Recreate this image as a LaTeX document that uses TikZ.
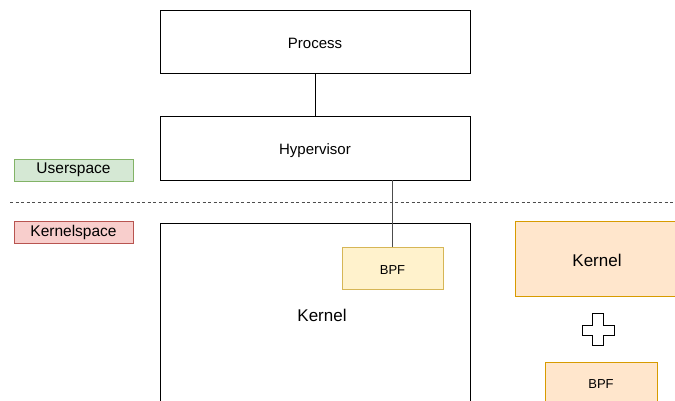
\documentclass[tikz,border=0pt]{standalone}
\usepackage{fontspec}
\setmainfont{Liberation Sans}
\definecolor{ugreen}{HTML}{D5E8D4}\definecolor{ugreenb}{HTML}{82B366}
\definecolor{kred}{HTML}{F8CECC}\definecolor{kredb}{HTML}{B85450}
\definecolor{byel}{HTML}{FFF2CC}\definecolor{byelb}{HTML}{D6B656}
\definecolor{korg}{HTML}{FFE6CC}\definecolor{korgb}{HTML}{D79B00}
\begin{document}
\begin{tikzpicture}[x=1pt,y=-1pt,
  txt/.style={inner sep=0pt,text depth=0pt},
  fmid/.style={font=\fontsize{15}{17}\selectfont,text height=13.8pt},
  fbig/.style={font=\fontsize{17}{19}\selectfont,text height=15.6pt},
  fsmall/.style={font=\fontsize{13}{15}\selectfont,text height=12pt},
  ftag/.style={font=\fontsize{15.5}{17}\selectfont,text height=11.2pt,text depth=3.2pt},
  plainbox/.style={txt,draw=black,fill=white,line width=0.8pt,fmid},
  tag/.style={txt,draw,line width=0.8pt,minimum width=119pt,minimum height=22pt,ftag},
  conn/.style={draw=black!70,line width=1pt}]
\useasboundingbox (0,0) rectangle (675,401);
\clip (0,0) rectangle (675,401);
\node[plainbox,minimum width=310pt,minimum height=63pt] (proc) at (315,41.5) {Process};
\node[plainbox,minimum width=310pt,minimum height=64pt] (hyp) at (315,148) {Hypervisor};
\node[plainbox,minimum width=310pt,minimum height=182pt] (kern) at (315,314) {};
\node[txt,fbig] (kernlbl) at (322,314) {Kernel};
\node[txt,fsmall,draw=byelb,fill=byel,line width=0.8pt,minimum width=101pt,minimum height=42pt] (bpf) at (392.5,268.5) {BPF};
\node[tag,draw=ugreenb,fill=ugreen] (us) at (73.5,170) {Userspace};
\node[tag,draw=kredb,fill=kred] (ks) at (73.5,232) {Kernelspace};
\node[txt,fbig,draw=korgb,fill=korg,line width=0.8pt,minimum width=164pt,minimum height=75pt] (rk) at (597,258.5) {Kernel};
\node[txt,fsmall,draw=korgb,fill=korg,line width=0.8pt,minimum width=112pt,minimum height=41pt] (rb) at (601,382.5) {BPF};
\coordinate (dl) at (10,202);
\coordinate (dr) at (675,202);
\draw[black!70,line width=0.8pt,dash pattern=on 3pt off 2.5pt] (dl) -- (dr);
\draw[line width=0.8pt] (proc.south) -- (hyp.north);
\draw[conn] (hyp.south -| bpf.north) -- (bpf.north);
\draw[line width=0.8pt,fill=white] (592.5,313.5) -- (603.5,313.5) -- (603.5,325) -- (614.5,325) -- (614.5,335) -- (603.5,335) -- (603.5,345.5) -- (592.5,345.5) -- (592.5,335) -- (582.5,335) -- (582.5,325) -- (592.5,325) -- cycle;
\end{tikzpicture}
\end{document}
